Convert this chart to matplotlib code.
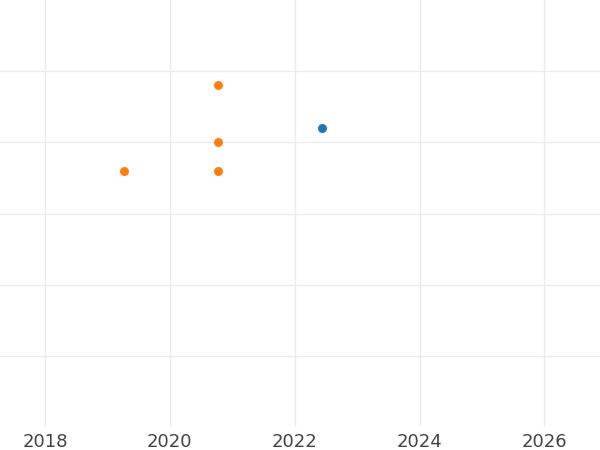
import matplotlib
matplotlib.use("Agg")
import matplotlib.pyplot as plt

orange_x = [2020.77, 2020.77, 2020.77, 2019.27]
orange_y = [4.8, 4.0, 3.6, 3.6]
blue_x = [2022.44]
blue_y = [4.2]
x_ticks = [2018, 2020, 2022, 2024, 2026]
y_ticks = [1, 2, 3, 4, 5]

fig = plt.figure(figsize=(6, 4.5), dpi=100)
ax = fig.add_axes([0, 1 - 427 / 450, 1, 427 / 450])
ax.scatter(orange_x, orange_y, s=42, color="#ff7f0e", zorder=3, linewidths=0)
ax.scatter(blue_x, blue_y, s=42, color="#1f77b4", zorder=3, linewidths=0)
ax.set_xlim(2017.28, 2026.89)
ax.set_ylim(0, 6)
ax.set_xticks(x_ticks)
ax.set_xticklabels([str(t) for t in x_ticks])
ax.set_yticks(y_ticks)
ax.set_yticklabels([])
ax.grid(True, color="#ebebeb", linewidth=1.0)
ax.set_axisbelow(True)
for s in ax.spines.values():
    s.set_visible(False)
ax.tick_params(axis="both", length=0)
ax.tick_params(axis="x", labelsize=13, labelcolor="#444444", pad=4)
fig.savefig("out.png", dpi=100)
